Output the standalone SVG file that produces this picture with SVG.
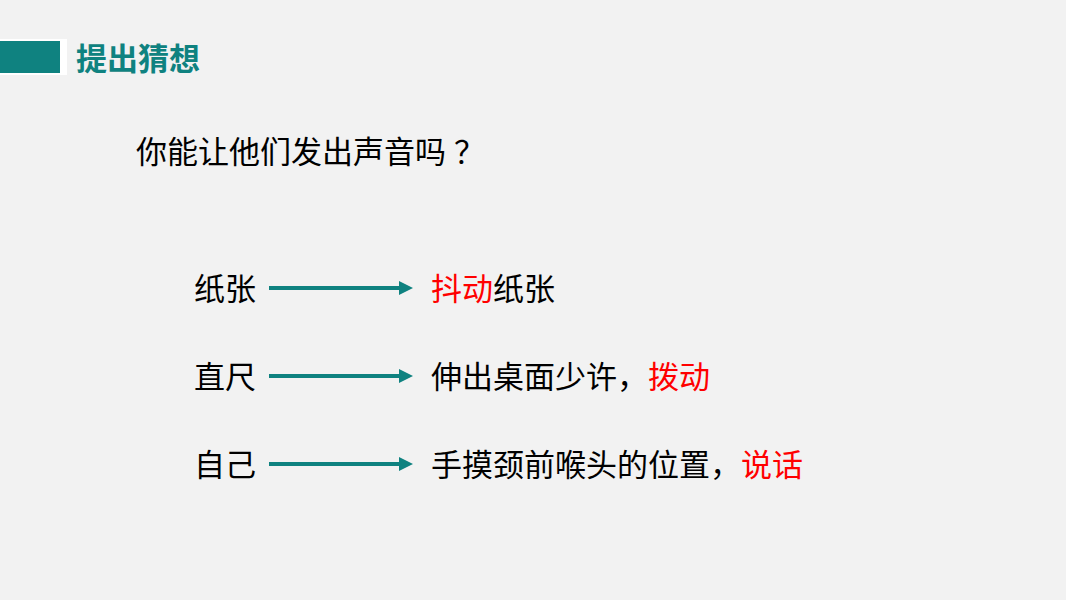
<svg xmlns="http://www.w3.org/2000/svg" width="1066" height="600" viewBox="0 0 1066 600">
<style>
.t{font-family:"Microsoft YaHei","Noto Sans CJK SC","Noto Sans",sans-serif;font-size:31px;fill:#000}
.r{fill:#ff0000}
.title{font-family:"Microsoft YaHei","Noto Sans CJK SC",sans-serif;font-size:31px;font-weight:bold;fill:#0f8280}
.ln{stroke:#0f8280;stroke-width:4;fill:none}
</style>
<defs>
<marker id="ah" markerWidth="3.5" markerHeight="3.5" refX="0" refY="1.75" orient="auto" markerUnits="strokeWidth" viewBox="0 0 3.5 3.5">
<path d="M0,0 L3.5,1.75 L0,3.5 Z" fill="#0f8280"/>
</marker>
</defs>
<rect width="1066" height="600" fill="#f2f2f2"/>
<g id="header">
<rect x="0" y="39" width="67" height="36" fill="#ffffff"/>
<rect x="0" y="41" width="60" height="32" fill="#0f8280"/>
<text class="title" x="76" y="70">提出猜想</text>
</g>
<g id="question">
<text class="t" x="136" y="163">你能让他们发出声音吗<tspan dx="8">？</tspan></text>
</g>
<g id="connectors">
<line class="ln" x1="269" y1="288" x2="399" y2="288" marker-end="url(#ah)"/>
<line class="ln" x1="269" y1="376" x2="399" y2="376" marker-end="url(#ah)"/>
<line class="ln" x1="269" y1="464" x2="399" y2="464" marker-end="url(#ah)"/>
</g>
<g id="n1a"><text class="t" x="194" y="300">纸张</text></g>
<g id="n1b"><text class="t" x="431" y="300"><tspan class="r">抖动</tspan>纸张</text></g>
<g id="n2a"><text class="t" x="194" y="388">直尺</text></g>
<g id="n2b"><text class="t" x="431" y="388">伸出桌面少许，<tspan class="r">拨动</tspan></text></g>
<g id="n3a"><text class="t" x="194" y="476">自己</text></g>
<g id="n3b"><text class="t" x="431" y="476">手摸颈前喉头的位置，<tspan class="r">说话</tspan></text></g>
</svg>
